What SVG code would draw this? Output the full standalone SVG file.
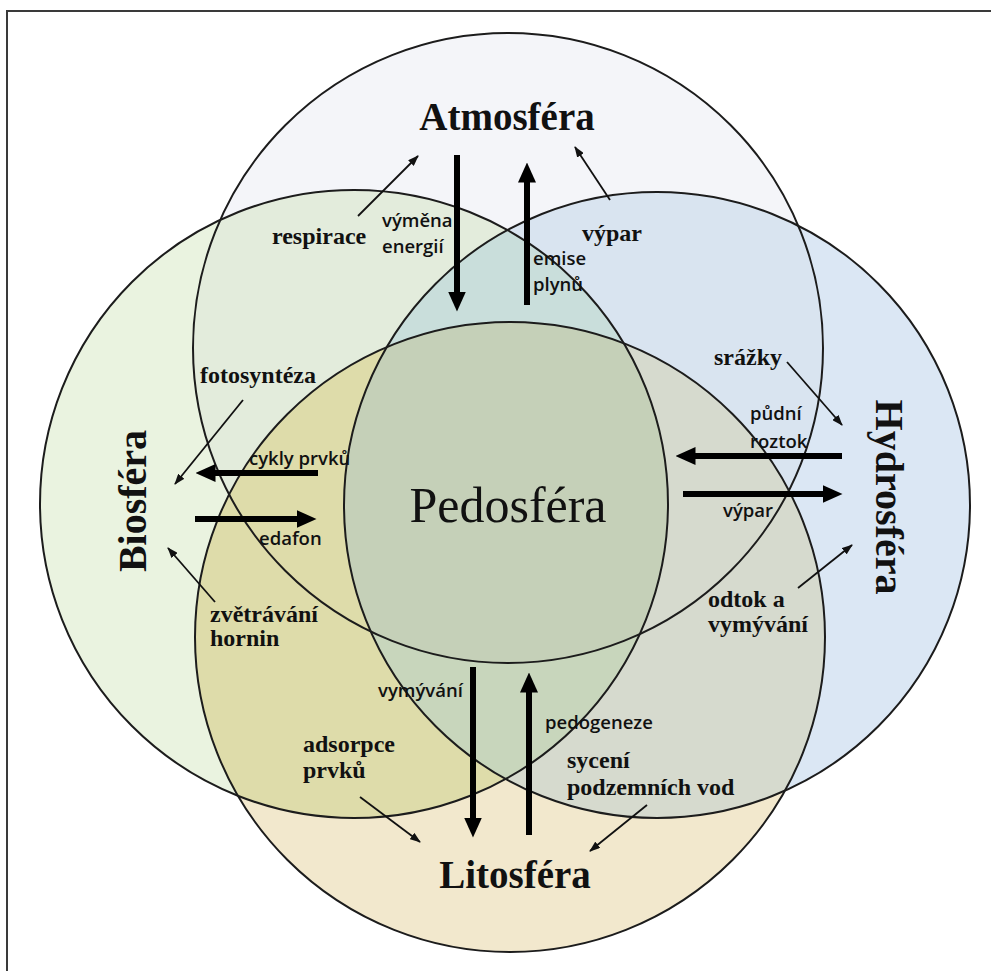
<svg xmlns="http://www.w3.org/2000/svg" xmlns:xlink="http://www.w3.org/1999/xlink" width="991" height="971" viewBox="0 0 991 971">
  <style>
    .ring { fill: none; stroke: #1c1c1c; stroke-width: 2; }
    .title { font-family: "Liberation Serif", "Times New Roman", serif; font-weight: bold; fill: #111; }
    .core { font-family: "Liberation Serif", "Times New Roman", serif; font-size: 50px; fill: #111; }
    .lbl { font-family: "Liberation Serif", "Times New Roman", serif; font-weight: bold; font-size: 24px; fill: #111; }
    .flow { font-family: "Open Sans", "Liberation Sans", sans-serif; font-weight: 600; font-size: 18.5px; fill: #111; }
    .thick { stroke: #000; stroke-width: 6; fill: none; marker-end: url(#bigHead); }
    .thin { stroke: #111; stroke-width: 1.8; fill: none; marker-end: url(#smallHead); }
  </style>
  <defs>
    <circle id="cirA" cx="508" cy="348" r="315"/>
    <circle id="cirB" cx="354" cy="504" r="314"/>
    <circle id="cirH" cx="657" cy="505" r="313"/>
    <circle id="cirL" cx="510" cy="637" r="315"/>
    <clipPath id="clipA"><circle cx="508" cy="348" r="315"/></clipPath>
    <clipPath id="clipB"><circle cx="354" cy="504" r="314"/></clipPath>
    <clipPath id="clipH"><circle cx="657" cy="505" r="313"/></clipPath>
    <clipPath id="clipL"><circle cx="510" cy="637" r="315"/></clipPath>
    <marker id="bigHead" viewBox="0 0 20 18" markerUnits="userSpaceOnUse" markerWidth="20" markerHeight="18" refX="0.5" refY="9" orient="auto">
      <path d="M0,0 L20,9 L0,18 Z" fill="#000"/>
    </marker>
    <marker id="smallHead" viewBox="0 0 11 8" markerUnits="userSpaceOnUse" markerWidth="11" markerHeight="8" refX="10" refY="4" orient="auto">
      <path d="M0,0 L11,4 L0,8 Z" fill="#111"/>
    </marker>
  </defs>

  <rect width="991" height="971" fill="#fff"/>
  <!-- frame: top and left edges -->
  <polyline points="7,971 7,11 991,11" fill="none" stroke="#3a3a3a" stroke-width="2"/>

  <!-- region fills: single spheres, then their overlaps -->
  <g id="fills">
    <use xlink:href="#cirA" fill="#f4f5f9"/>
    <use xlink:href="#cirB" fill="#eaf3e0"/>
    <use xlink:href="#cirH" fill="#dbe7f4"/>
    <use xlink:href="#cirL" fill="#f2e8cd"/>
    <use xlink:href="#cirB" fill="#e3ecdc" clip-path="url(#clipA)"/>
    <use xlink:href="#cirH" fill="#d9e4f0" clip-path="url(#clipA)"/>
    <use xlink:href="#cirH" fill="#c9dedb" clip-path="url(#clipB)"/>
    <use xlink:href="#cirL" fill="#dedcaa" clip-path="url(#clipB)"/>
    <use xlink:href="#cirL" fill="#d6dace" clip-path="url(#clipH)"/>
    <g clip-path="url(#clipL)">
      <use xlink:href="#cirH" fill="#c8d6bc" clip-path="url(#clipB)"/>
    </g>
  </g>

  <g id="pedosfera">
    <g clip-path="url(#clipA)">
      <g clip-path="url(#clipL)">
        <use xlink:href="#cirH" fill="#c5d0b8" clip-path="url(#clipB)"/>
      </g>
    </g>
  </g>

  <g id="atmosfera">
    <use xlink:href="#cirA" class="ring"/>
    <text class="title" x="507" y="130" font-size="39" text-anchor="middle">Atmosféra</text>
  </g>
  <g id="biosfera">
    <use xlink:href="#cirB" class="ring"/>
    <text class="title" font-size="40" text-anchor="middle" transform="translate(146,501) rotate(-90)">Biosféra</text>
  </g>
  <g id="hydrosfera">
    <use xlink:href="#cirH" class="ring"/>
    <text class="title" font-size="40" text-anchor="middle" transform="translate(876,497) rotate(90)">Hydrosféra</text>
  </g>
  <g id="litosfera">
    <use xlink:href="#cirL" class="ring"/>
    <text class="title" x="515" y="888" font-size="39" text-anchor="middle">Litosféra</text>
  </g>
  <g id="pedosfera-label">
    <text class="core" x="508" y="522" text-anchor="middle">Pedosféra</text>
  </g>

  <g id="connectors">
    <!-- exchange flows to and from the soil -->
    <line class="thick" x1="457" y1="155" x2="457" y2="292"/>
    <line class="thick" x1="527" y1="305" x2="527" y2="182"/>
    <line class="thick" x1="318" y1="473" x2="215" y2="473"/>
    <line class="thick" x1="195" y1="519" x2="297" y2="519"/>
    <line class="thick" x1="842" y1="456" x2="695" y2="456"/>
    <line class="thick" x1="683" y1="494" x2="823" y2="494"/>
    <line class="thick" x1="473" y1="667" x2="473" y2="818"/>
    <line class="thick" x1="529" y1="835" x2="529" y2="692"/>

    <!-- processes between the outer spheres -->
    <line class="thin" x1="358" y1="216" x2="418" y2="156"/>
    <line class="thin" x1="610" y1="200" x2="575" y2="147"/>
    <line class="thin" x1="243" y1="400" x2="175" y2="484"/>
    <line class="thin" x1="215" y1="602" x2="168" y2="548"/>
    <line class="thin" x1="787" y1="362" x2="842" y2="425"/>
    <line class="thin" x1="798" y1="588" x2="852" y2="545"/>
    <line class="thin" x1="360" y1="797" x2="420" y2="842"/>
    <line class="thin" x1="647" y1="805" x2="590" y2="851"/>

    <text class="flow" x="382" y="227">výměna</text>
    <text class="flow" x="382" y="253">energií</text>
    <text class="flow" x="533" y="265">emise</text>
    <text class="flow" x="533" y="291">plynů</text>
    <text class="flow" x="249" y="465">cykly prvků</text>
    <text class="flow" x="259" y="545">edafon</text>
    <text class="flow" x="750" y="420">půdní</text>
    <text class="flow" x="750" y="448">roztok</text>
    <text class="flow" x="723" y="517">výpar</text>
    <text class="flow" x="378" y="697">vymývání</text>
    <text class="flow" x="545" y="729">pedogeneze</text>

    <text class="lbl" x="272" y="244">respirace</text>
    <text class="lbl" x="582" y="241">výpar</text>
    <text class="lbl" x="200" y="383">fotosyntéza</text>
    <text class="lbl" x="210" y="622">zvětrávání</text>
    <text class="lbl" x="210" y="646">hornin</text>
    <text class="lbl" x="714" y="365">srážky</text>
    <text class="lbl" x="708" y="607">odtok a</text>
    <text class="lbl" x="708" y="632">vymývání</text>
    <text class="lbl" x="303" y="752">adsorpce</text>
    <text class="lbl" x="303" y="778">prvků</text>
    <text class="lbl" x="567" y="768">sycení</text>
    <text class="lbl" x="567" y="795">podzemních vod</text>
  </g>
</svg>
